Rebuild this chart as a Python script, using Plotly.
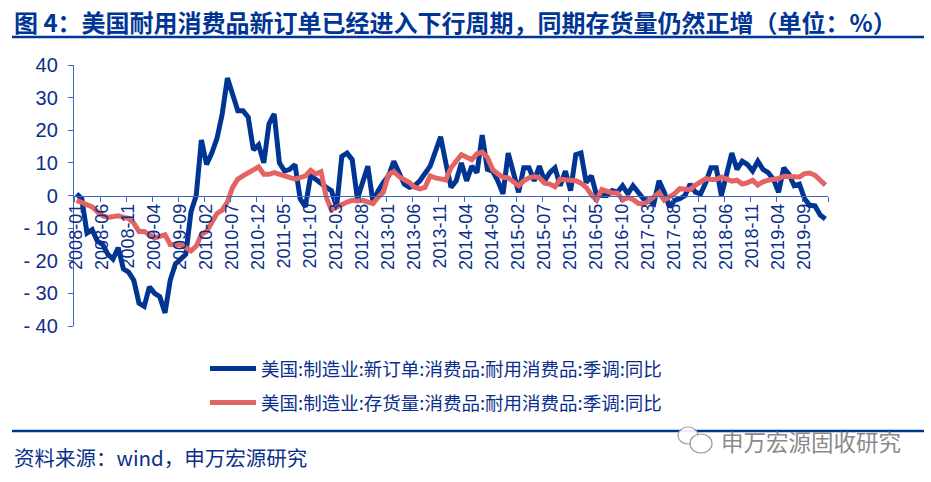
import plotly.graph_objects as go

BLUE = "#003594"
RED = "#e46464"
TEXT = "#0b2f8a"
CJK = "Noto Sans CJK SC"

months = ["%d-%02d" % (2008 + i // 12, i % 12 + 1) for i in range(145)]

new_orders = [
    0.5, -1, -11.5, -10.5, -14, -15, -18, -19.5, -16, -22.5,
    -23.5, -26, -33, -34, -28, -30, -31, -36, -26, -21,
    -19.5, -18, -5, 0, 17, 9.5, 13, 17.5, 25, 36,
    31, 26, 26, 24, 14, 15.5, 10, 22, 25, 10,
    7.5, 8, 9.5, -1, -3.5, 6, 5, 3.5, 2.5, 1.5,
    -3.5, 12, 13, 11, -1, 4, 9, -2, 1.5, 4,
    6, 10.5, 7, 3.5, 2.5, 3, 4.5, 6.5, 9, 13.5,
    18, 10, 2.5, 4.5, 10, 4.5, 9, 7, 18.5, 8,
    7.5, 4.5, 0.5, 13, 7.5, 1, 8.5, 8.5, 4.5, 9,
    4.5, 7, 8.5, 3, 7.5, 1.5, 12.5, 13, 4, 6,
    0, 0, 0, 1.5, 1, 3, 0.5, 3, 1, -1,
    -1.5, -2.5, 4.5, 1, -3.5, -1.5, -1, 0, 3.5, 1,
    0.5, 4, 8.5, 8.5, 0, 7, 13, 8, 10.5, 9.5,
    7.5, 10.5, 8, 7, 5, 1, 8.5, 6.5, 3, 3.5,
    -1, -3, -3.2, -6, -7.2,
]

inventory = [
    -1.5, -2.2, -3, -3.5, -5, -6.2, -6.7, -6.5, -6.2, -6.7,
    -7, -8.5, -11, -11, -12, -13, -12.5, -12, -15, -15,
    -15, -16, -17, -15.5, -12, -11, -8.5, -5.5, -4.5, -2,
    2.5, 5, 6, 7, 8.2, 8.8, 6.5, 6.5, 7, 6.5,
    6.2, 5.5, 5, 5.5, 6, 7.7, 6.6, 7.3, -0.5, -4.4,
    -3.5, -3, -2, -1.5, -1.7, -1.5, -2.2, -2.5, -0.5, 1,
    6.5, 7.3, 5.8, 5, 4, 2.5, 2, 2.5, 6, 5.4,
    5.2, 4.8, 8.5, 10.5, 12.5, 11.7, 11, 12.8, 13.3, 11.7,
    8, 6.6, 5.6, 5.4, 4.4, 3, 4.5, 5.4, 5.8, 5.4,
    3.8, 3.5, 2.7, 5, 4.8, 4.8, 4.5, 3.8, 2.5, 0.2,
    -1.4, 1.8, 1.3, 0.8, 0.8, -1.4, -0.6, -1.2, -2.4, -2.7,
    -1.7, -0.6, 0.8, -1.4, -0.4, 0.6, 2.1, 2.1, 1.8, 3.2,
    4.2, 5.2, 4.9, 4.9, 5.7, 4.9, 4.4, 4.7, 3.5, 3.9,
    4.7, 3.2, 4.2, 4.7, 4.9, 5.2, 5.9, 5.9, 5.7, 5.7,
    6.7, 6.9, 6.2, 4.9, 3.2,
]

y_ticks = [40, 30, 20, 10, 0, -10, -20, -30, -40]
y_labels = ["40", "30", "20", "10", "0", "- 10", "- 20", "- 30", "- 40"]

W, H = 931, 482


def px_x(x):
    return x / W


def px_y(y):
    return 1 - y / H


fig = go.Figure()
fig.add_trace(go.Scatter(
    x=months, y=new_orders, mode="lines", name="美国:制造业:新订单:消费品:耐用消费品:季调:同比",
    legendgroup="a", line=dict(color=BLUE, width=5),
))
fig.add_trace(go.Scatter(
    x=months, y=inventory, mode="lines", name="美国:制造业:存货量:消费品:耐用消费品:季调:同比",
    legendgroup="b", line=dict(color=RED, width=5),
))

rules = [(37, 2.5), (431, 2.5)]
shapes = [
    dict(type="line", xref="paper", yref="paper", x0=px_x(12), x1=px_x(924),
         y0=px_y(y), y1=px_y(y), line=dict(color=BLUE, width=w))
    for y, w in rules
]
# wechat style mark next to the watermark
shapes += [
    dict(type="circle", xref="paper", yref="paper", x0=px_x(a), x1=px_x(c),
         y0=px_y(d), y1=px_y(b), line=dict(color="#9a9a9a", width=1.2), fillcolor="rgba(255,255,255,0.9)")
    for a, b, c, d in [(678, 427, 698, 444), (690, 434, 712, 453)]
]

annotations = [
    dict(text="<b>图 4：美国耐用消费品新订单已经进入下行周期，同期存货量仍然正增（单位：%）</b>",
         x=px_x(12), y=px_y(22), font=dict(size=24, color=BLUE, family=CJK)),
    dict(text="资料来源：wind，申万宏源研究",
         x=px_x(12), y=px_y(457), font=dict(size=20.5, color=TEXT, family=CJK)),
    dict(text="申万宏源固收研究",
         x=px_x(719), y=px_y(441), font=dict(size=22.5, color="#8a8a8a", family=CJK)),
]
for a in annotations:
    a.update(xref="paper", yref="paper", xanchor="left", yanchor="middle",
             showarrow=False)

fig.update_layout(
    width=W, height=H, margin=dict(l=0, r=0, t=0, b=0, autoexpand=False),
    paper_bgcolor="white", plot_bgcolor="white",
    shapes=shapes, annotations=annotations,
    legend=dict(
        x=px_x(205), y=px_y(350), xanchor="left", yanchor="top",
        font=dict(size=18.5, color=TEXT, family=CJK),
        itemwidth=46, tracegroupgap=7, bgcolor="rgba(0,0,0,0)",
    ),
    xaxis=dict(
        type="category", domain=[px_x(74), px_x(828)], range=[-0.5, 144.5],
        anchor="free", position=px_y(195.5), tickson="boundaries",
        tickmode="linear", tick0=0, dtick=5, tickangle=-90,
        ticks="outside", ticklen=5, tickwidth=1.3, tickcolor="#3f66c0", showline=True,
        linecolor="#3f66c0", linewidth=1.3, showgrid=False, zeroline=False,
        tickfont=dict(size=18, color=TEXT, family="Liberation Sans"),
    ),
    yaxis=dict(
        domain=[px_y(326), px_y(65)], range=[-40, 40], tickvals=y_ticks,
        ticktext=y_labels, ticks="outside", ticklen=5, tickwidth=1.3, tickcolor="#3f66c0",
        showline=True, linecolor="#3f66c0", linewidth=1.3, showgrid=False,
        zeroline=False, ticklabelstandoff=6,
        tickfont=dict(size=20, color=TEXT, family="Liberation Sans"),
    ),
)

fig.write_html("out.html", config=dict(displayModeBar=False),
               post_script="document.body.style.margin='0';")
